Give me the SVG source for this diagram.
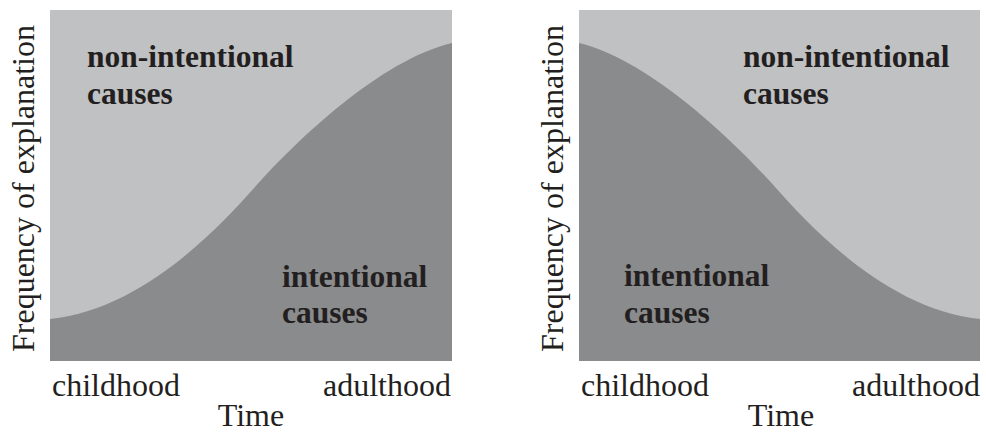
<svg xmlns="http://www.w3.org/2000/svg" width="986" height="432" viewBox="0 0 986 432">
  <style>
    .light { fill: #c0c1c3; }
    .dark { fill: #8a8b8d; }
    .lbl { font-family: "Liberation Serif", "Times New Roman", serif; font-size: 32px; fill: #231f20; }
    .bold { font-family: "Liberation Serif", "Times New Roman", serif; font-size: 31.5px; font-weight: bold; fill: #231f20; }
  </style>
  <rect width="986" height="432" fill="#ffffff"/>
  <g id="left-panel">
    <rect class="light" x="50" y="10" width="402" height="351"/>
    <path class="dark" d="M50,319 C140,310 215,232 255,187 C295,142 380,60 452,43 L452,361 L50,361 Z"/>
    <text class="bold" x="87" y="67">non-intentional</text>
    <text class="bold" x="87" y="104">causes</text>
    <text class="bold" x="282" y="287">intentional</text>
    <text class="bold" x="282" y="323">causes</text>
    <text class="lbl" x="52" y="396">childhood</text>
    <text class="lbl" x="451" y="396" text-anchor="end">adulthood</text>
    <text class="lbl" x="251" y="426" text-anchor="middle">Time</text>
    <text class="lbl" transform="translate(33.5,188.5) rotate(-90)" text-anchor="middle">Frequency of explanation</text>
  </g>
  <g id="right-panel">
    <rect class="light" x="579" y="10" width="401" height="351"/>
    <path class="dark" d="M579,43 C650,60 735,142 775,187 C815,232 890,310 980,319 L980,361 L579,361 Z"/>
    <text class="bold" x="743" y="67">non-intentional</text>
    <text class="bold" x="743" y="104">causes</text>
    <text class="bold" x="624" y="286">intentional</text>
    <text class="bold" x="624" y="323">causes</text>
    <text class="lbl" x="581" y="396">childhood</text>
    <text class="lbl" x="980" y="396" text-anchor="end">adulthood</text>
    <text class="lbl" x="781" y="426" text-anchor="middle">Time</text>
    <text class="lbl" transform="translate(562.5,188.5) rotate(-90)" text-anchor="middle">Frequency of explanation</text>
  </g>
  <g id="connectors"/>
</svg>
